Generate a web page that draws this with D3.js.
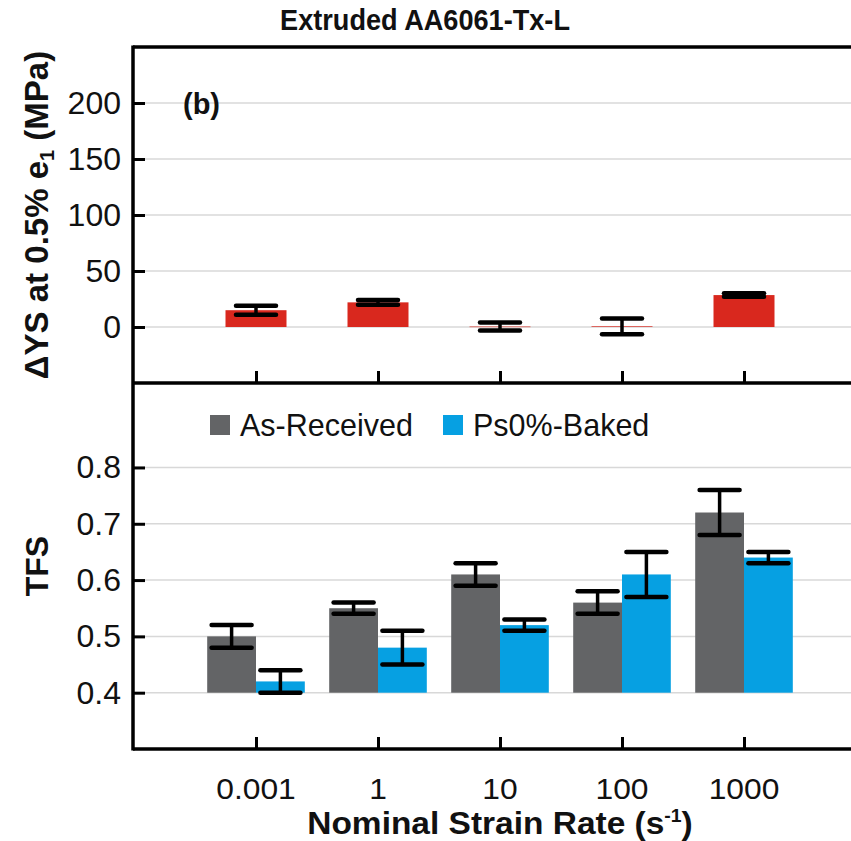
<!DOCTYPE html>
<html>
<head>
<meta charset="utf-8">
<script src="https://cdn.jsdelivr.net/npm/d3@7"></script>
<style>
  html, body { margin: 0; padding: 0; background: #fff; }
  svg { display: block; }
  text { font-family: "Liberation Sans", Arial, Helvetica, sans-serif; fill: #111; }
</style>
</head>
<body>
<script>
// ---- data ----
const categories = ["0.001", "1", "10", "100", "1000"];
const dysValues = [15, 22, 0.4, 0.6, 28.5];
const dysErrors = [4, 2.2, 3.6, 7, 1.6];
const dysTicks = [0, 50, 100, 150, 200];
const seriesNames = ["As-Received", "Ps0%-Baked"];
const asReceived = [0.50, 0.55, 0.61, 0.56, 0.72];
const asReceivedErr = [0.02, 0.01, 0.02, 0.02, 0.04];
const baked = [0.42, 0.48, 0.52, 0.61, 0.64];
const bakedErr = [0.02, 0.03, 0.01, 0.04, 0.01];
const tfsTicks = [0.4, 0.5, 0.6, 0.7, 0.8];

// ---- layout ----
const W = 851, H = 841;
const left = 133, right = 851;
const topY = 47, midY = 383, botY = 749;
const red = "#d9281e", gray = "#636466", blue = "#06a0e2";
const gridColor = "#d8d8d8";
const capW = 40;

const svg = d3.select("body").append("svg").attr("width", W).attr("height", H);

const x = d3.scalePoint().domain(categories).range([256, 744]);
const step = x.step();
const yTop = d3.scaleLinear().domain([-50, 250]).range([midY, topY]);
const yBot = d3.scaleLinear().domain([0.3, 0.95]).range([botY, midY]);

// ---- title ----
svg.append("text").attr("transform", "translate(425,30) scale(0.92,1)").attr("text-anchor", "middle")
  .attr("font-weight", "bold").attr("font-size", 29.5).text("Extruded AA6061-Tx-L");

// ---- gridlines ----
svg.append("g").selectAll("line").data(dysTicks).join("line")
  .attr("x1", left).attr("x2", right)
  .attr("y1", d => yTop(d)).attr("y2", d => yTop(d))
  .attr("stroke", gridColor).attr("stroke-width", 1.5);
svg.append("g").selectAll("line").data(tfsTicks).join("line")
  .attr("x1", left).attr("x2", right)
  .attr("y1", d => yBot(d)).attr("y2", d => yBot(d))
  .attr("stroke", gridColor).attr("stroke-width", 1.5);

// ---- top panel bars ----
const topBarW = step * 0.5;
svg.append("g").selectAll("rect").data(categories).join("rect")
  .attr("x", d => x(d) - topBarW / 2)
  .attr("width", topBarW)
  .attr("y", (d, i) => Math.min(yTop(dysValues[i]), yTop(0)))
  .attr("height", (d, i) => Math.max(0.6, Math.abs(yTop(0) - yTop(dysValues[i]))))
  .attr("fill", red);

function errorBars(g, cx, vals, errs, scale) {
  const eg = g.append("g").attr("stroke", "#000").attr("stroke-width", 4.5);
  vals.forEach((v, i) => {
    const c = cx(i);
    const y1 = scale(v + errs[i]), y2 = scale(v - errs[i]);
    eg.append("line").attr("x1", c).attr("x2", c).attr("y1", y1).attr("y2", y2).attr("stroke-width", 3.5);
    eg.append("line").attr("x1", c - capW / 2).attr("x2", c + capW / 2).attr("y1", y1).attr("y2", y1).attr("stroke-linecap", "round");
    eg.append("line").attr("x1", c - capW / 2).attr("x2", c + capW / 2).attr("y1", y2).attr("y2", y2).attr("stroke-linecap", "round");
  });
}
errorBars(svg, i => x(categories[i]), dysValues, dysErrors, yTop);

// ---- bottom panel bars ----
const botBarW = step * 0.4;
const series = [
  { name: seriesNames[0], vals: asReceived, errs: asReceivedErr, color: gray, off: -botBarW / 2 },
  { name: seriesNames[1], vals: baked, errs: bakedErr, color: blue, off: botBarW / 2 }
];
series.forEach(s => {
  svg.append("g").selectAll("rect").data(categories).join("rect")
    .attr("x", d => x(d) + s.off - botBarW / 2)
    .attr("width", botBarW)
    .attr("y", (d, i) => yBot(s.vals[i]))
    .attr("height", (d, i) => yBot(0.4) - yBot(s.vals[i]))
    .attr("fill", s.color);
});
series.forEach(s => {
  errorBars(svg, i => x(categories[i]) + s.off, s.vals, s.errs, yBot);
});

// ---- legend ----
const lg = svg.append("g");
const legendX = [210, 443];
series.forEach((s, i) => {
  lg.append("rect").attr("x", legendX[i]).attr("y", 415).attr("width", 20).attr("height", 20).attr("fill", s.color);
  lg.append("text").attr("x", legendX[i] + 30).attr("y", 436).attr("font-size", 30.5).text(s.name);
});

// ---- axes: frame lines ----
const ax = svg.append("g").attr("stroke", "#000").attr("stroke-width", 3.5);
ax.append("line").attr("x1", left).attr("x2", left).attr("y1", topY - 1.5).attr("y2", botY + 1.5);
[topY, midY, botY].forEach(yy => ax.append("line").attr("x1", left).attr("x2", right).attr("y1", yy).attr("y2", yy));

// y-axis ticks (pointing inward)
const gTopAxis = svg.append("g").attr("transform", `translate(${left},0)`)
  .call(d3.axisRight(yTop).tickValues(dysTicks).tickSize(12).tickFormat(""));
const gBotAxis = svg.append("g").attr("transform", `translate(${left},0)`)
  .call(d3.axisRight(yBot).tickValues(tfsTicks).tickSize(12).tickFormat(""));
[gTopAxis, gBotAxis].forEach(g => {
  g.select(".domain").remove();
  g.selectAll(".tick line").attr("stroke", "#000").attr("stroke-width", 3);
});
// tick labels
svg.append("g").selectAll("text").data(dysTicks).join("text")
  .attr("x", 121).attr("y", d => yTop(d) + 11).attr("text-anchor", "end")
  .attr("font-size", 32).text(d => d3.format("d")(d));
svg.append("g").selectAll("text").data(tfsTicks).join("text")
  .attr("x", 121).attr("y", d => yBot(d) + 11).attr("text-anchor", "end")
  .attr("font-size", 32).text(d => d3.format(".1f")(d));

// x ticks (upward) at bottom of both panels
[midY, botY].forEach(yy => {
  const g = svg.append("g").attr("transform", `translate(0,${yy})`)
    .call(d3.axisTop(x).tickSize(12).tickFormat(""));
  g.select(".domain").remove();
  g.selectAll(".tick line").attr("stroke", "#000").attr("stroke-width", 3);
});
svg.append("g").selectAll("text").data(categories).join("text")
  .attr("transform", d => `translate(${x(d)},799) scale(1.06,1)`).attr("text-anchor", "middle")
  .attr("font-size", 30).text(d => d);

// panel label
svg.append("text").attr("x", 183).attr("y", 114).attr("font-weight", "bold").attr("font-size", 29).text("(b)");

// axis titles
const t1 = svg.append("text").attr("transform", `translate(48,${(topY + midY) / 2}) rotate(-90)`)
  .attr("text-anchor", "middle").attr("font-weight", "bold").attr("font-size", 33);
t1.append("tspan").text("ΔYS at 0.5% e");
t1.append("tspan").attr("font-size", 20).attr("dy", 6).text("1");
t1.append("tspan").attr("dy", -6).text(" (MPa)");

svg.append("text").attr("transform", `translate(48,${(midY + botY) / 2}) rotate(-90)`)
  .attr("text-anchor", "middle").attr("font-weight", "bold").attr("font-size", 32).text("TFS");

const t3 = svg.append("text").attr("transform", "translate(500,834) scale(1.08,1)").attr("text-anchor", "middle")
  .attr("font-weight", "bold").attr("font-size", 31);
t3.append("tspan").text("Nominal Strain Rate (s");
t3.append("tspan").attr("font-size", 18).attr("dy", -12).text("-1");
t3.append("tspan").attr("dy", 12).text(")");
</script>
</body>
</html>
